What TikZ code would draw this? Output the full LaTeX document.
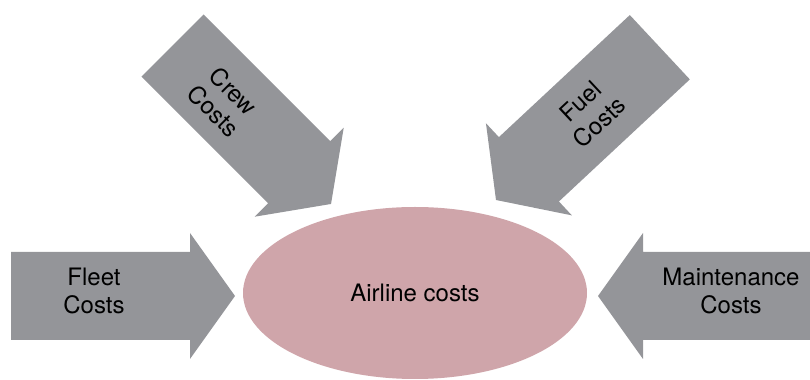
\documentclass[tikz,border=0pt]{standalone}
\usepackage{fontspec}
\setmainfont{TeX Gyre Heros}
\usetikzlibrary{shapes.geometric}
\definecolor{costgray}{RGB}{148,149,153}
\definecolor{hubpink}{RGB}{207,165,170}
\tikzset{
  costlabel/.style={align=center, inner sep=0pt, font=\fontsize{12}{14}\selectfont},
  hub/.style={ellipse, fill=hubpink, minimum width=172pt, minimum height=86pt, inner sep=0pt, font=\fontsize{12}{14}\selectfont}
}

\begin{document}
\begin{tikzpicture}[x=0.5pt,y=0.5pt]
\clip (0,0) rectangle (810,380);
% block arrows: tip x / tip y / direction
\foreach \tx/\ty/\ang in {235/84/0, 598/84/180, 331/176/-45, 496/180/-137}
\fill[costgray, shift={(\tx,\ty)}, rotate=\ang] (0,0) -- (-45,63) -- (-45,44) -- (-224,44) -- (-224,-44) -- (-45,-44) -- (-45,-63) -- cycle;
\node[hub] (airline) at (415,87) {Airline costs};
\node[costlabel] (fleet) at (94,89.5) {Fleet\\Costs};
\node[costlabel] (maint) at (731,89.5) {Maintenance\\Costs};
\node[costlabel, rotate=-45] (crew) at (223.7,278.8) {Crew\\Costs};
\node[costlabel, rotate=43] (fuel) at (590,268.3) {Fuel\\Costs};
\end{tikzpicture}
\end{document}
